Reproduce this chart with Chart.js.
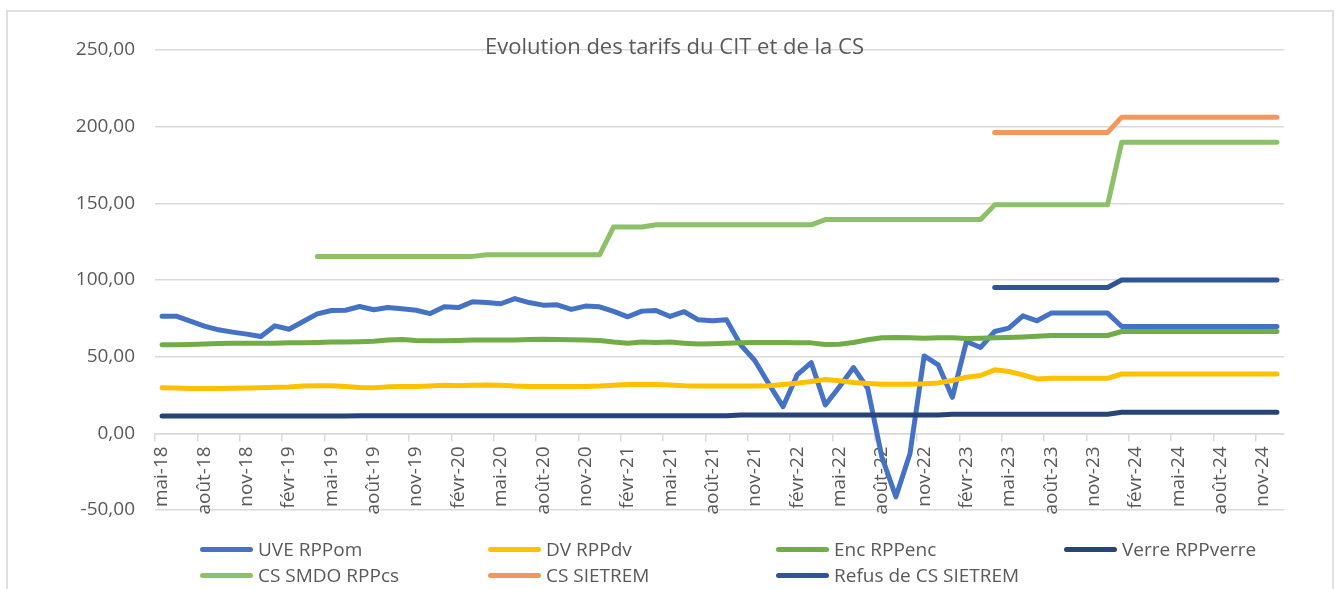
<!DOCTYPE html>
<html lang="fr">
<head>
<meta charset="utf-8">
<title>Evolution des tarifs du CIT et de la CS</title>
<script src="https://cdn.jsdelivr.net/npm/chart.js@4.4.1/dist/chart.umd.min.js"></script>
<style>
  html, body { margin: 0; padding: 0; background: #fff; }
  body { width: 1344px; height: 589px; position: relative; overflow: hidden; font-family: 'Open Sans', sans-serif; }
  #frame { position: absolute; left: 6px; top: 10px; width: 1328px; height: 640px; border: 2px solid #e0e0e0; box-sizing: border-box; }
  #wrap { position: absolute; left: 0; top: 0; width: 1344px; height: 589px; }
  #legend { position: absolute; left: 200px; top: 536px; width: 1152px; display: grid; grid-template-columns: 288px 288px 288px 288px; grid-auto-rows: 26px; color: #595959; font-size: 19px; }
  .item { display: flex; align-items: center; white-space: nowrap; }
  .swatch { display: inline-block; width: 53px; height: 5px; border-radius: 3px; margin-right: 5px; }
</style>
</head>
<body>
<div id="frame"></div>
<div id="wrap"><canvas id="chart" width="1344" height="589"></canvas></div>
<div id="legend"></div>
<script>
const months = [
  'mai-18','juin-18','juil-18','août-18','sept-18','oct-18','nov-18','déc-18',
  'janv-19','févr-19','mars-19','avr-19','mai-19','juin-19','juil-19','août-19','sept-19','oct-19','nov-19','déc-19',
  'janv-20','févr-20','mars-20','avr-20','mai-20','juin-20','juil-20','août-20','sept-20','oct-20','nov-20','déc-20',
  'janv-21','févr-21','mars-21','avr-21','mai-21','juin-21','juil-21','août-21','sept-21','oct-21','nov-21','déc-21',
  'janv-22','févr-22','mars-22','avr-22','mai-22','juin-22','juil-22','août-22','sept-22','oct-22','nov-22','déc-22',
  'janv-23','févr-23','mars-23','avr-23','mai-23','juin-23','juil-23','août-23','sept-23','oct-23','nov-23','déc-23',
  'janv-24','févr-24','mars-24','avr-24','mai-24','juin-24','juil-24','août-24','sept-24','oct-24','nov-24','déc-24'
];

const uveRPPom = [
  76.4,76.4,73.2,69.9,67.5,66.0,64.7,63.1,70.1,67.9,72.9,77.9,80.1,80.3,82.7,80.6,82.1,81.2,80.3,78.1,
  82.5,82.0,85.8,85.3,84.5,87.9,85.3,83.6,83.8,80.8,83.0,82.5,79.5,76.0,79.7,80.1,76.2,79.3,74.0,73.4,
  74.0,57.7,47.5,32.2,17.4,38.1,46.1,18.5,30.4,42.9,29.4,-15.3,-41.4,-13.1,50.5,44.6,23.5,59.9,56.0,66.4,
  68.6,76.6,73.4,78.4,78.4,78.4,78.4,78.4,69.7,69.7,69.7,69.7,69.7,69.7,69.7,69.7,69.7,69.7,69.7,69.7
];

const dvRPPdv = [
  29.8,29.5,29.2,29.2,29.2,29.4,29.6,29.8,30.0,30.2,30.8,31.1,31.1,30.6,29.9,29.8,30.3,30.5,30.6,30.9,
  31.3,31.1,31.4,31.6,31.4,30.8,30.5,30.5,30.5,30.5,30.5,30.8,31.4,31.8,31.8,31.8,31.6,31.1,30.9,30.9,
  30.9,30.9,30.9,31.1,31.8,32.7,33.8,35.1,34.3,33.1,32.5,32.0,32.0,32.0,32.3,32.9,34.5,36.6,37.7,41.4,
  40.3,38.1,35.5,35.9,35.9,35.9,35.9,35.9,38.7,38.7,38.7,38.7,38.7,38.7,38.7,38.7,38.7,38.7,38.7,38.7
];

const encRPPenc = [
  57.7,57.7,57.9,58.2,58.6,58.8,58.8,58.8,58.8,59.0,59.0,59.2,59.5,59.6,59.8,60.1,60.8,61.2,60.5,60.3,
  60.3,60.5,60.8,60.8,60.8,60.9,61.2,61.4,61.2,61.0,60.8,60.5,59.5,58.8,59.5,59.2,59.5,58.8,58.3,58.5,
  58.8,59.0,59.2,59.2,59.2,59.0,59.0,57.9,58.1,59.2,61.0,62.3,62.5,62.3,62.0,62.3,62.3,61.8,62.0,62.3,
  62.5,62.9,63.3,63.8,63.8,63.8,63.8,63.8,66.4,66.4,66.4,66.4,66.4,66.4,66.4,66.4,66.4,66.4,66.4,66.4
];

const verreRPPverre = [
  11.3,11.3,11.3,11.3,11.3,11.3,11.3,11.3,11.3,11.3,11.3,11.3,11.3,11.3,11.5,11.5,11.5,11.5,11.5,11.5,
  11.5,11.5,11.5,11.5,11.5,11.5,11.5,11.5,11.5,11.5,11.5,11.5,11.5,11.5,11.5,11.5,11.5,11.5,11.5,11.5,
  11.5,12.0,12.0,12.0,12.0,12.0,12.0,12.0,12.0,12.0,12.0,12.0,12.0,12.0,12.0,12.0,12.4,12.4,12.4,12.4,
  12.4,12.4,12.4,12.4,12.4,12.4,12.4,12.4,13.7,13.7,13.7,13.7,13.7,13.7,13.7,13.7,13.7,13.7,13.7,13.7
];

const csSmdoRPPcs = [
  null,null,null,null,null,null,null,null,null,null,null,115.4,115.4,115.4,115.4,115.4,115.4,115.4,115.4,115.4,
  115.4,115.4,115.4,116.4,116.4,116.4,116.4,116.4,116.4,116.4,116.4,116.4,134.6,134.6,134.6,136.0,136.0,136.0,136.0,136.0,
  136.0,136.0,136.0,136.0,136.0,136.0,136.0,139.4,139.4,139.4,139.4,139.4,139.4,139.4,139.4,139.4,139.4,139.4,139.4,149.0,
  149.0,149.0,149.0,149.0,149.0,149.0,149.0,149.0,189.9,189.9,189.9,189.9,189.9,189.9,189.9,189.9,189.9,189.9,189.9,189.9
];

const csSietrem = [
  null,null,null,null,null,null,null,null,null,null,null,null,null,null,null,null,null,null,null,null,
  null,null,null,null,null,null,null,null,null,null,null,null,null,null,null,null,null,null,null,null,
  null,null,null,null,null,null,null,null,null,null,null,null,null,null,null,null,null,null,null,196.2,
  196.2,196.2,196.2,196.2,196.2,196.2,196.2,196.2,206.2,206.2,206.2,206.2,206.2,206.2,206.2,206.2,206.2,206.2,206.2,206.2
];

const refusCsSietrem = [
  null,null,null,null,null,null,null,null,null,null,null,null,null,null,null,null,null,null,null,null,
  null,null,null,null,null,null,null,null,null,null,null,null,null,null,null,null,null,null,null,null,
  null,null,null,null,null,null,null,null,null,null,null,null,null,null,null,null,null,null,null,95.1,
  95.1,95.1,95.1,95.1,95.1,95.1,95.1,95.1,100.0,100.0,100.0,100.0,100.0,100.0,100.0,100.0,100.0,100.0,100.0,100.0
];

const seriesNames = ['UVE RPPom','DV RPPdv','Enc RPPenc','Verre RPPverre','CS SMDO RPPcs','CS SIETREM','Refus de CS SIETREM'];
const seriesValues = [uveRPPom, dvRPPdv, encRPPenc, verreRPPverre, csSmdoRPPcs, csSietrem, refusCsSietrem];
const seriesColors = ['#4472C4','#FFC000','#70AD47','#264478','#8CC168','#F4975C','#2F5597'];
const yTicks = [-50, 0, 50, 100, 150, 200, 250];
const chartTitle = 'Evolution des tarifs du CIT et de la CS';

Chart.defaults.font.family = "'Open Sans', sans-serif";
Chart.defaults.color = '#595959';

const datasets = seriesNames.map((name, k) => ({
  label: name,
  data: seriesValues[k],
  borderColor: seriesColors[k],
  backgroundColor: seriesColors[k],
  borderWidth: 5,
  borderCapStyle: 'round',
  borderJoinStyle: 'round',
  pointRadius: 0,
  pointHoverRadius: 0,
  tension: 0,
  fill: false,
  spanGaps: false,
  yAxisID: 'y',
  order: -k
}));

const tickColor = (ctx) => (ctx.index % 3 === 0 ? '#d9d9d9' : 'rgba(0,0,0,0)');

const chart = new Chart(document.getElementById('chart'), {
  type: 'line',
  data: { labels: months, datasets },
  options: {
    responsive: false,
    animation: false,
    devicePixelRatio: 1,
    layout: { padding: { left: 5, right: 0, top: 0, bottom: 79 } },
    plugins: {
      legend: { display: false },
      tooltip: { enabled: false },
      title: {
        display: true,
        text: chartTitle,
        color: '#595959',
        font: { size: 22, weight: 'normal' },
        padding: { top: 34.3, bottom: -10.7 }
      }
    },
    scales: {
      x: {
        type: 'category',
        position: { y: 0 },
        offset: true,
        grid: {
          offset: true,
          drawOnChartArea: false,
          drawTicks: true,
          tickLength: 7,
          lineWidth: 1.5,
          color: tickColor,
          tickColor: tickColor
        },
        border: { display: true, color: '#d9d9d9', width: 1.5 },
        ticks: {
          autoSkip: false,
          maxRotation: 90,
          minRotation: 90,
          padding: 6,
          color: '#595959',
          font: { size: 19 },
          callback: function (value, index) {
            return index % 3 === 0 ? this.getLabelForValue(value) : '';
          }
        }
      },
      y: {
        position: 'left',
        min: -50,
        max: 250,
        afterBuildTicks: (scale) => { scale.ticks = yTicks.map(v => ({ value: v })); },
        afterFit: (scale) => { scale.width = 150; },
        grid: { color: '#d9d9d9', lineWidth: 1.5, drawTicks: false },
        border: { display: false },
        ticks: {
          padding: 20,
          color: '#595959',
          font: { size: 19 },
          callback: (v) => v.toFixed(2).replace('.', ',')
        }
      },
      yRight: {
        position: 'right',
        display: true,
        min: -50,
        max: 250,
        afterFit: (scale) => { scale.width = 60; },
        grid: { display: false, drawOnChartArea: false, drawTicks: false },
        border: { display: false },
        ticks: { display: false }
      }
    }
  }
});

// HTML legend built from the chart's own legend items, in series order
const legendEl = document.getElementById('legend');
const items = chart.options.plugins.legend.labels.generateLabels(chart)
  .sort((a, b) => a.datasetIndex - b.datasetIndex);
items.forEach((it) => {
  const div = document.createElement('div');
  div.className = 'item';
  const sw = document.createElement('span');
  sw.className = 'swatch';
  sw.style.background = it.strokeStyle;
  const tx = document.createElement('span');
  tx.textContent = it.text;
  div.appendChild(sw);
  div.appendChild(tx);
  legendEl.appendChild(div);
});
</script>
</body>
</html>
